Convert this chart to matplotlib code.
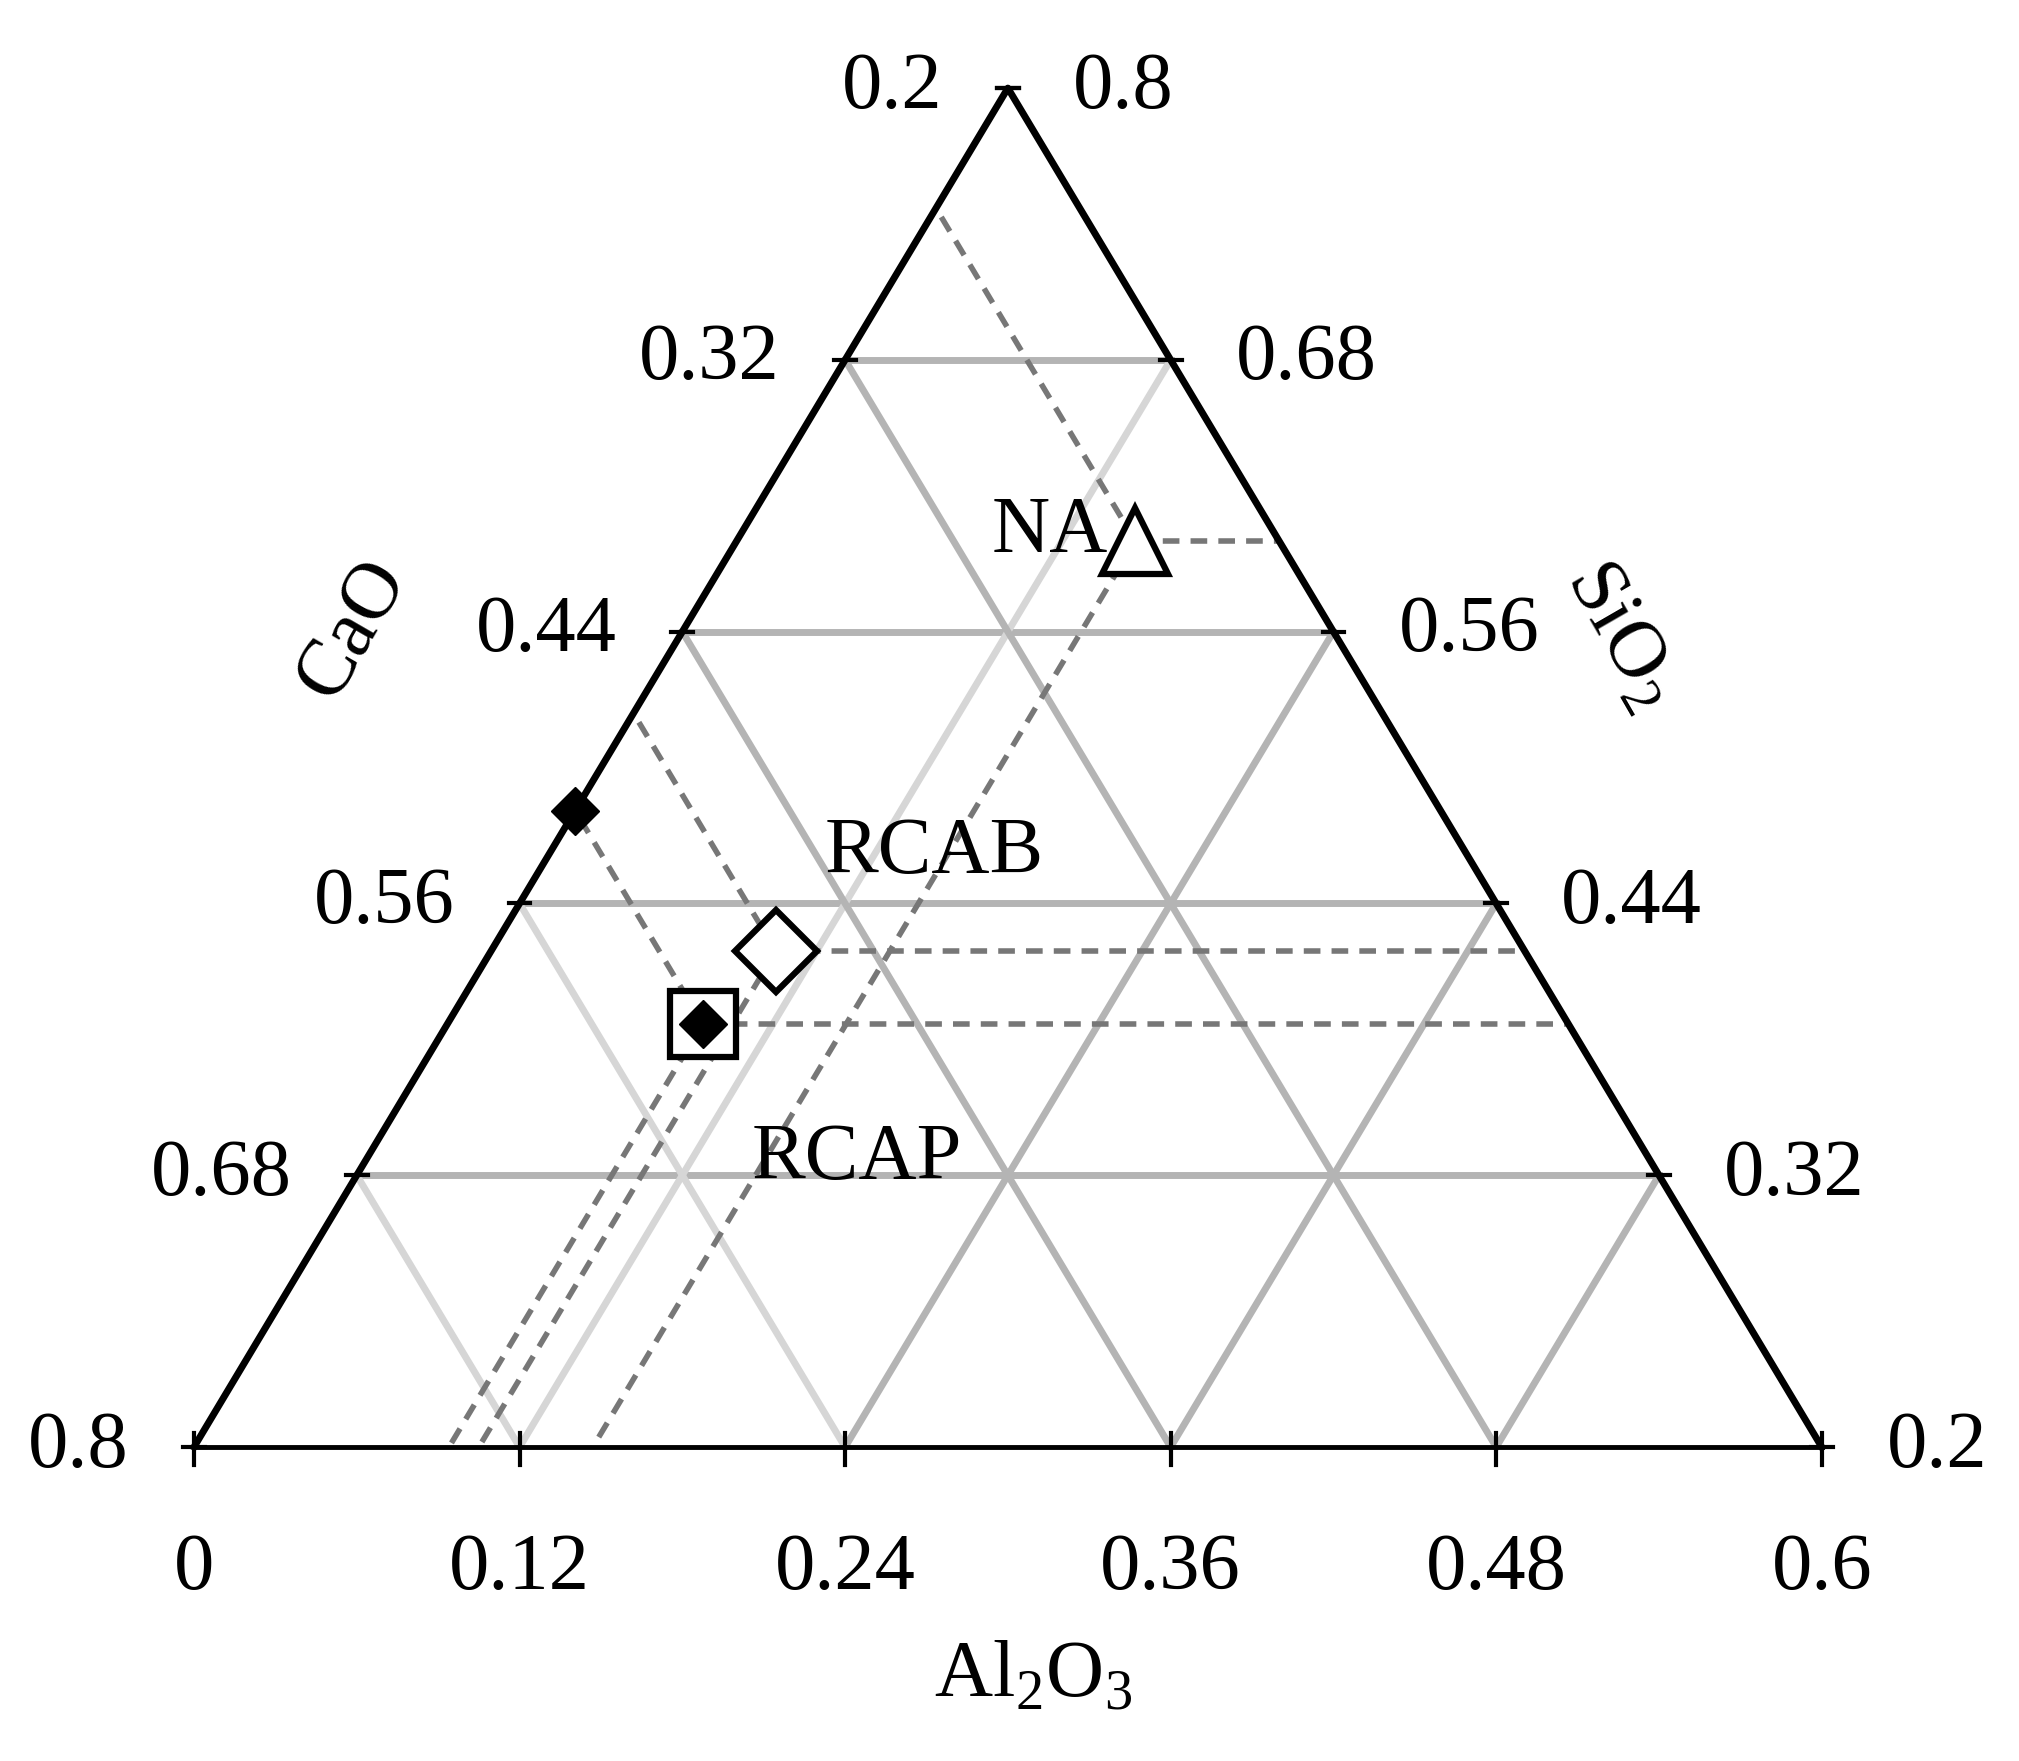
import matplotlib
matplotlib.use("Agg")
import matplotlib.pyplot as plt
import numpy as np

plt.rcParams['font.family'] = ['Liberation Serif', 'DejaVu Serif']
plt.rcParams['mathtext.fontset'] = 'custom'
plt.rcParams['mathtext.rm'] = 'Liberation Serif'

ticks_al = [0, 0.12, 0.24, 0.36, 0.48, 0.6]
ticks_cao = [0.2, 0.32, 0.44, 0.56, 0.68, 0.8]
ticks_sio2 = [0.8, 0.68, 0.56, 0.44, 0.32, 0.2]
names = ["NA", "RCAB", "RCAP"]
al = [0.147, 0.105, 0.094]
sio2 = [0.600, 0.419, 0.387]
cao = [1 - a - s for a, s in zip(al, sio2)]
edge_cao = 0.519  # filled diamond on CaO edge

def xy(a, s):
    return a + (s - 0.2) / 2, s - 0.2

fig = plt.figure(figsize=(20.19, 17.61), dpi=100)
ax = fig.add_axes([0, 0, 1, 1])
ax.set_xlim(-0.0715, 0.6727)
ax.set_ylim(-0.1386, 0.6389)
ax.axis('off')

dark = '#b4b4b4'; light = '#d6d6d6'
for s in [0.32, 0.44, 0.56, 0.68]:
    x0, y0 = xy(0, s); x1, y1 = xy(0.8 - s, s)
    ax.plot([x0, x1], [y0, y1], color=dark, lw=5, zorder=1)
for a in [0.12, 0.24, 0.36, 0.48]:
    x0, y0 = xy(a, 0.2); x1, y1 = xy(a, 0.8 - a)
    ax.plot([x0, x1], [y0, y1], color=dark if a >= 0.24 else light, lw=5, zorder=1)
for c in [0.32, 0.44, 0.56, 0.68]:
    a0 = 0.8 - c
    x0, y0 = xy(a0, 0.2); x1, y1 = xy(0, 1 - c)
    ax.plot([x0, x1], [y0, y1], color=light if c >= 0.56 else dark, lw=5, zorder=1)

P = [xy(0, 0.2), xy(0.6, 0.2), xy(0, 0.8), xy(0, 0.2)]
ax.plot([p[0] for p in P[:2]], [p[1] for p in P[:2]], color='black', lw=3.5, zorder=3)
ax.plot([p[0] for p in P[1:]], [p[1] for p in P[1:]], color='black', lw=5, zorder=3)

fs = 58
for a in ticks_al:
    x, y = xy(a, 0.2)
    ax.plot([x, x], [y - 0.008, y + 0.006], color='black', lw=3, zorder=4)
    ax.text(x, -0.054, f"{a:g}", ha='center', va='center', fontsize=fs)
for c in ticks_cao:
    x, y = xy(0, 1 - c)
    ax.plot([x - 0.004, x + 0.004], [y, y], color='black', lw=3, zorder=4)
    ax.text(x - 0.024, y, f"{c:g}", ha='right', va='center', fontsize=fs)
for s in ticks_sio2:
    x, y = xy(0.8 - s, s)
    ax.plot([x - 0.004, x + 0.004], [y, y], color='black', lw=3, zorder=4)
    ax.text(x + 0.024, y, f"{s:g}", ha='left', va='center', fontsize=fs)

ax.text(0.0585, 0.3614, "CaO", rotation=60, ha='center', va='center', fontsize=fs)
ax.text(0.5256, 0.3586, "SiO$_2$", rotation=-60, ha='center', va='center', fontsize=fs)
ax.text(0.3092, -0.1014, "Al$_2$O$_3$", ha='center', va='center', fontsize=fs)

dk = dict(color='#777777', lw=4, ls=(0, (3, 2)), zorder=2)
for a, s, c in zip(al, sio2, cao):
    px, py = xy(a, s)
    ex, ey = xy(0.8 - s, s)
    ax.plot([px, ex], [py, ey], **dk)
    bx, by = xy(a, 0.2)
    ax.plot([px, bx], [py, by], **dk)
    lx, ly = xy(0, 1 - c)
    ax.plot([px, lx], [py, ly], **dk)

ax.plot(*xy(al[0], sio2[0]), marker='^', ms=48, mfc='white', mec='black', mew=4.5, zorder=5)
ax.plot(*xy(al[1], sio2[1]), marker='D', ms=42, mfc='white', mec='black', mew=4.5, zorder=5)
ax.plot(*xy(al[2], sio2[2]), marker='s', ms=48, mfc='white', mec='black', mew=4.5, zorder=5)
ax.plot(*xy(al[2], sio2[2]), marker='D', ms=24, mfc='black', mec='black', zorder=6)
ax.plot(*xy(0, 1 - edge_cao), marker='D', ms=24, mfc='black', mec='black', zorder=6)

ax.text(*np.add(xy(al[0], sio2[0]), (-0.010, 0.004)), "NA", ha='right', va='center', fontsize=fs, zorder=4)
ax.text(*np.add(xy(al[1], sio2[1]), (0.018, 0.043)), "RCAB", ha='left', va='center', fontsize=fs, zorder=4)
ax.text(*np.add(xy(al[2], sio2[2]), (0.018, -0.060)), "RCAP", ha='left', va='center', fontsize=fs, zorder=4)

fig.savefig("out.png", dpi=100)
